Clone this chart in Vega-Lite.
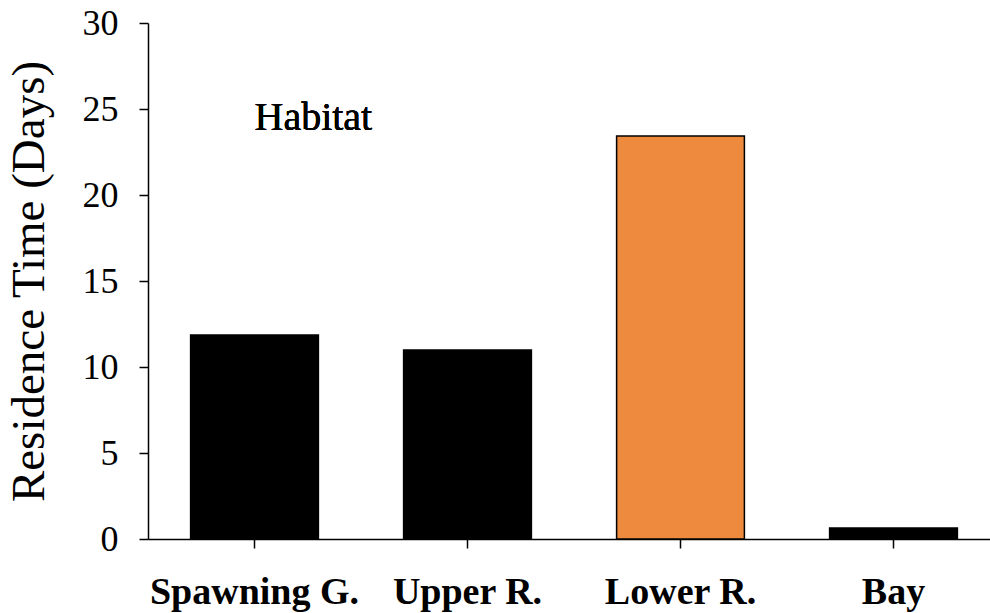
{
  "$schema": "https://vega.github.io/schema/vega-lite/v6.json",
  "autosize": "none",
  "padding": {"left": 148, "top": 23, "right": 0, "bottom": 74},
  "width": 852,
  "height": 516,
  "background": "white",
  "config": {
    "view": {"stroke": null},
    "font": "Times New Roman, Liberation Serif, serif"
  },
  "data": {
    "values": [
      {"habitat": "Spawning G.", "days": 11.86, "highlight": "no"},
      {"habitat": "Upper R.", "days": 10.99, "highlight": "no"},
      {"habitat": "Lower R.", "days": 23.43, "highlight": "yes"},
      {"habitat": "Bay", "days": 0.64, "highlight": "no"}
    ]
  },
  "layer": [
    {
      "mark": {"type": "bar", "stroke": "black", "strokeWidth": 1.5},
      "encoding": {
        "x": {
          "field": "habitat",
          "type": "nominal",
          "sort": null,
          "scale": {"paddingInner": 0.4, "paddingOuter": 0.2},
          "axis": {
            "title": null,
            "labelAngle": 0,
            "labelLimit": 0,
            "labelFont": "Times New Roman, Liberation Serif, serif",
            "labelFontWeight": "bold",
            "labelFontSize": 38,
            "labelColor": "black",
            "labelPadding": 25,
            "tickSize": 9,
            "tickColor": "black",
            "tickWidth": 1.5,
            "domainColor": "black",
            "domainWidth": 1.5
          }
        },
        "y": {
          "field": "days",
          "type": "quantitative",
          "scale": {"domain": [0, 30]},
          "axis": {
            "title": "Residence Time (Days)",
            "titleFont": "Times New Roman, Liberation Serif, serif",
            "titleFontWeight": "normal",
            "titleFontSize": 47,
            "titleColor": "black",
            "titlePadding": 29,
            "values": [0, 5, 10, 15, 20, 25, 30],
            "grid": false,
            "labelFont": "Times New Roman, Liberation Serif, serif",
            "labelFontSize": 36,
            "labelColor": "black",
            "labelPadding": 21,
            "tickSize": 9,
            "tickColor": "black",
            "tickWidth": 1.5,
            "domainColor": "black",
            "domainWidth": 1.5
          }
        },
        "fill": {
          "field": "highlight",
          "type": "nominal",
          "scale": {"domain": ["no", "yes"], "range": ["black", "#ED8A3E"]},
          "legend": null
        }
      }
    },
    {
      "mark": {"type": "text", "text": "Habitat", "font": "Times New Roman, Liberation Serif, serif", "fontSize": 40, "align": "left", "baseline": "alphabetic", "color": "black"},
      "encoding": {
        "x": {"datum": "Spawning G."},
        "y": {"datum": 23.8}
      }
    }
  ]
}
